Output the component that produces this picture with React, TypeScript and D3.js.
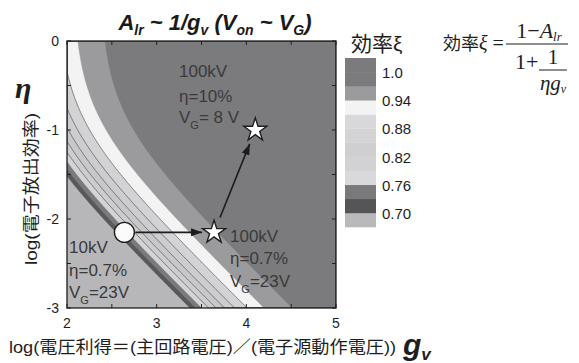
import React from "react";
import * as d3 from "d3";

const width = 579;
const height = 363;
const margin = { top: 41, right: 243, bottom: 55, left: 67 };

const sansFont = "Arial, 'Liberation Sans', 'Noto Sans CJK JP', sans-serif";
const serifFont = "'Times New Roman', 'Liberation Serif', 'Noto Sans CJK JP', serif";

// axes
const xDomain = [2, 5];
const yDomain = [-3, 0];
const xTicks = [2, 3, 4, 5];
const yTicks = [0, -1, -2, -3];

// A_lr ~ lossCoef / g_v
const lossCoef = 7;

// contour levels of xi and their fills (region >= level)
const levels = [0.7, 0.73, 0.76, 0.79, 0.82, 0.85, 0.88, 0.91, 0.94, 0.97];
const levelColors = [
  "#58585a", "#7a7a7c", "#d4d4d6", "#cdcdcf", "#c8c8ca",
  "#cdcdcf", "#d3d3d5", "#f3f3f3", "#9b9b9e", "#7b7b7e",
];
const belowColor = "#b7b7b9";
const lineLevels = [0.79, 0.82, 0.85, 0.88, 0.91];

// colour bar
const legendLow = [0.67, 0.7, 0.73, 0.76, 0.79, 0.82, 0.85, 0.88, 0.91, 0.94, 0.97, 1.0];
const legendColors = [
  "#b9b9bb", "#555557", "#79797b", "#d9d9db", "#d2d2d4", "#cfcfd1",
  "#d4d4d6", "#d8d8da", "#f3f3f3", "#9b9b9e", "#7b7b7e", "#7b7b7e",
];
const legendTicks = [1.0, 0.94, 0.88, 0.82, 0.76, 0.7];
const legendTickLabels = ["1.0", "0.94", "0.88", "0.82", "0.76", "0.70"];

// operating points (log g_v, log eta)
const circlePoint = [2.64, -2.15];
const starPoints = [
  [3.64, -2.15],
  [4.1, -1.0],
];

const xi = (lg: number, le: number) => {
  const g = Math.pow(10, lg);
  const eta = Math.pow(10, le);
  return (1 - lossCoef / g) / (1 + 1 / (eta * g));
};

const Label = ({ x, y, lines }: any) => (
  <g fontFamily={sansFont} fontSize={17} fill="#3a3a3a">
    <text x={x} y={y[0]}>{lines[0]}</text>
    <text x={x} y={y[1]}>{lines[1]}</text>
    <text x={x} y={y[2]}>
      V<tspan fontSize={11} dy={6}>G</tspan>
      <tspan dy={-6}>{lines[2]}</tspan>
    </text>
  </g>
);

const App = () => {
  const innerWidth = width - margin.left - margin.right;
  const innerHeight = height - margin.top - margin.bottom;
  const x0 = margin.left;
  const x1 = margin.left + innerWidth;
  const y0 = margin.top;
  const y1 = margin.top + innerHeight;

  const xScale = d3.scaleLinear().domain(xDomain).range([x0, x1]);
  const yScale = d3.scaleLinear().domain(yDomain).range([y1, y0]);

  // grid for contours
  const nx = Math.round(innerWidth);
  const ny = Math.round(innerHeight);
  const values = new Array(nx * ny);
  for (let j = 0; j < ny; j++) {
    for (let i = 0; i < nx; i++) {
      const lx = xDomain[0] + ((i + 0.5) / nx) * (xDomain[1] - xDomain[0]);
      const ly = yDomain[1] - ((j + 0.5) / ny) * (yDomain[1] - yDomain[0]);
      values[i + j * nx] = xi(lx, ly);
    }
  }
  const contours = d3.contours().size([nx, ny]).thresholds(levels)(values);
  const proj = d3.geoTransform({
    point: function (px: number, py: number) {
      (this as any).stream.point(
        xScale(xDomain[0] + (px / nx) * (xDomain[1] - xDomain[0])),
        yScale(yDomain[1] - (py / ny) * (yDomain[1] - yDomain[0]))
      );
    },
  });
  const path = d3.geoPath(proj);

  const tickVals = xScale.ticks(6);
  const yTickVals = yScale.ticks(6);

  const legendY = d3.scaleLinear().domain([0.67, 1.03]).range([227, 58]);

  const arrowSeg = (a: number[], b: number[], r0: number, r1: number) => {
    const ax = xScale(a[0]);
    const ay = yScale(a[1]);
    const bx = xScale(b[0]);
    const by = yScale(b[1]);
    const dx = bx - ax;
    const dy = by - ay;
    const len = Math.hypot(dx, dy);
    return {
      x1: ax + (dx / len) * r0,
      y1: ay + (dy / len) * r0,
      x2: bx - (dx / len) * r1,
      y2: by - (dy / len) * r1,
    };
  };
  const arrows = [
    arrowSeg(circlePoint, starPoints[0], 11, 12),
    arrowSeg(starPoints[0], starPoints[1], 16, 15),
  ];

  const star = d3.symbol().type(d3.symbolStar).size(165)();

  return (
    <svg
      width={width}
      height={height}
      style={{ position: "absolute", left: 0, top: 0, background: "white" }}
    >
      <defs>
        <clipPath id="plotClip">
          <rect x={x0} y={y0} width={innerWidth} height={innerHeight} />
        </clipPath>
        <marker
          id="arrowHead"
          markerUnits="userSpaceOnUse"
          markerWidth={11}
          markerHeight={8}
          refX={11}
          refY={4}
          orient="auto"
        >
          <path d="M0,0 L11,4 L0,8 Z" fill="#1c1c1c" />
        </marker>
      </defs>
      <rect width={width} height={height} fill="white" />

      {/* title */}
      <text
        x={215}
        y={30}
        textAnchor="middle"
        fontFamily={sansFont}
        fontWeight="bold"
        fontStyle="italic"
        fontSize={22}
        fill="#1a1a1a"
      >
        A<tspan fontSize={14} dy={5}>lr</tspan>
        <tspan dy={-5}> ~ 1/g</tspan>
        <tspan fontSize={14} dy={5}>v</tspan>
        <tspan dy={-5}> (V</tspan>
        <tspan fontSize={14} dy={5}>on</tspan>
        <tspan dy={-5}> ~ V</tspan>
        <tspan fontSize={14} dy={5}>G</tspan>
        <tspan dy={-5}>)</tspan>
      </text>

      {/* contour map */}
      <g clipPath="url(#plotClip)">
        <rect x={x0} y={y0} width={innerWidth} height={innerHeight} fill={belowColor} />
        {contours.map((c, i) => (
          <path key={i} d={path(c as any) || ""} fill={levelColors[i]} stroke={levelColors[i]} strokeWidth={0.5} />
        ))}
        {contours
          .filter((c) => lineLevels.some((l) => Math.abs(l - c.value) < 1e-6))
          .map((c, i) => (
            <path key={i} d={path(c as any) || ""} fill="none" stroke="#505050" strokeWidth={0.75} />
          ))}
      </g>

      {/* inner ticks */}
      <g stroke="#222" strokeWidth={1}>
        {tickVals.map((t) => (
          <g key={"x" + t}>
            <line x1={xScale(t)} x2={xScale(t)} y1={y1} y2={y1 - 4} />
            <line x1={xScale(t)} x2={xScale(t)} y1={y0} y2={y0 + 4} />
          </g>
        ))}
        {yTickVals.map((t) => (
          <g key={"y" + t}>
            <line x1={x0} x2={x0 + 4} y1={yScale(t)} y2={yScale(t)} />
            <line x1={x1} x2={x1 - 4} y1={yScale(t)} y2={yScale(t)} />
          </g>
        ))}
      </g>
      <rect x={x0} y={y0} width={innerWidth} height={innerHeight} fill="none" stroke="#1e1e1e" strokeWidth={1.3} />

      {/* tick labels */}
      <g fontFamily={sansFont} fontSize={14} fill="#1e1e1e">
        {xTicks.map((t) => (
          <text key={t} x={xScale(t)} y={y1 + 20} textAnchor="middle">{t}</text>
        ))}
        {yTicks.map((t) => (
          <text key={t} x={x0 - 8} y={yScale(t) + 5} textAnchor="end">{t}</text>
        ))}
      </g>

      {/* axis titles */}
      <text x={15} y={98} fontFamily={serifFont} fontStyle="italic" fontWeight="bold" fontSize={30} fill="#1e1e1e">
        η
      </text>
      <text
        transform="translate(37,189) rotate(-90)"
        textAnchor="middle"
        fontFamily={sansFont}
        fontSize={17}
        fill="#1e1e1e"
        textLength={152}
        lengthAdjust="spacingAndGlyphs"
      >
        log(電子放出効率)
      </text>
      <text
        x={9}
        y={353}
        fontFamily={sansFont}
        fontSize={17}
        fill="#1e1e1e"
        textLength={387}
        lengthAdjust="spacingAndGlyphs"
      >
        log(電圧利得＝(主回路電圧)／(電子源動作電圧))
      </text>
      <text x={403} y={355} fontFamily={sansFont} fontWeight="bold" fontStyle="italic" fontSize={30} fill="#1e1e1e">
        g<tspan fontSize={17} dy={5}>v</tspan>
      </text>

      {/* annotations */}
      <Label x={179} y={[77, 102, 123]} lines={["100kV", "η=10%", "= 8 V"]} />
      <Label x={230} y={[242, 264, 287]} lines={["100kV", "η=0.7%", "=23V"]} />
      <Label x={69} y={[253, 276, 298]} lines={["10kV", "η=0.7%", "=23V"]} />

      {arrows.map((a, i) => (
        <line key={i} {...a} stroke="#1c1c1c" strokeWidth={1.6} markerEnd="url(#arrowHead)" />
      ))}
      <circle
        cx={xScale(circlePoint[0])}
        cy={yScale(circlePoint[1])}
        r={10}
        fill="#fbfbfb"
        stroke="#1e1e1e"
        strokeWidth={1.4}
      />
      {starPoints.map((p, i) => (
        <path
          key={i}
          d={star || ""}
          transform={`translate(${xScale(p[0])},${yScale(p[1])})`}
          fill="#ffffff"
          stroke="#1e1e1e"
          strokeWidth={1.4}
          strokeLinejoin="miter"
        />
      ))}

      {/* colour bar */}
      <text x={351} y={51} fontFamily={sansFont} fontSize={21} fill="#1e1e1e">
        効率ξ
      </text>
      {legendLow.map((v, i) => (
        <rect
          key={i}
          x={345}
          y={legendY(v + 0.03)}
          width={31}
          height={legendY(v) - legendY(v + 0.03) + 0.3}
          fill={legendColors[i]}
        />
      ))}
      {legendTicks.map((v, i) => (
        <text key={i} x={382} y={legendY(v) + 6} fontFamily={sansFont} fontSize={15} fill="#1e1e1e">
          {legendTickLabels[i]}
        </text>
      ))}

      {/* formula */}
      <g fontFamily={serifFont} fill="#1e1e1e">
        <text x={443} y={50} fontSize={18}>
          効率<tspan fontStyle="italic" fontSize={20}>ξ</tspan>
          <tspan fontSize={20}> =</tspan>
        </text>
        <line x1={506} x2={568} y1={44} y2={44} stroke="#1e1e1e" strokeWidth={1} />
        <text x={539} y={38} fontSize={22} textAnchor="middle">
          1−<tspan fontStyle="italic">A</tspan>
          <tspan fontStyle="italic" fontSize={13} dy={3}>lr</tspan>
        </text>
        <text x={515} y={69} fontSize={22}>1+</text>
        <line x1={539} x2={567} y1={70} y2={70} stroke="#1e1e1e" strokeWidth={1} />
        <text x={553} y={64} fontSize={21} textAnchor="middle">1</text>
        <text x={553} y={90} fontSize={21} textAnchor="middle" fontStyle="italic">
          ηg<tspan fontSize={12} dy={3}>v</tspan>
        </text>
      </g>
    </svg>
  );
};

export default App;
